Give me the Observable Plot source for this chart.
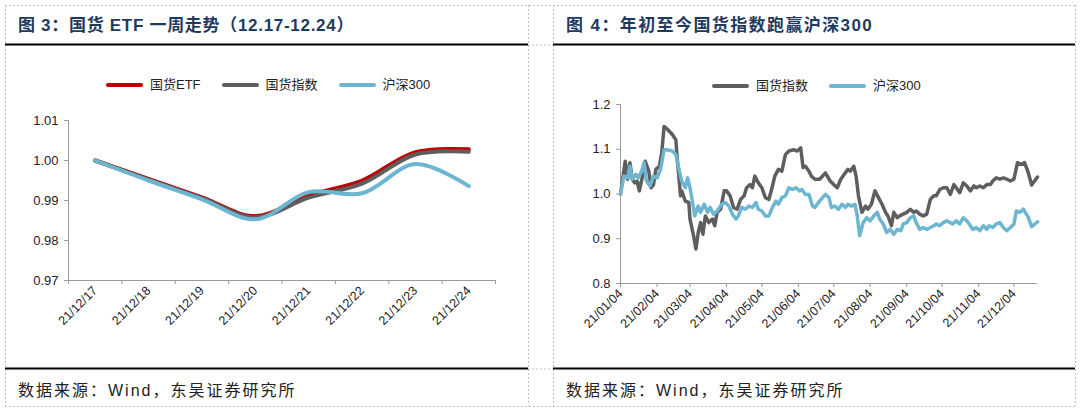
<!DOCTYPE html>
<html>
<head>
<meta charset="utf-8">
<script src="https://cdn.jsdelivr.net/npm/d3@7"></script>
<script src="https://cdn.jsdelivr.net/npm/@observablehq/plot@0.6"></script>
<style>
  body { margin: 0; background: #fff; }
  #root { position: relative; width: 1080px; height: 409px; overflow: hidden; background: #fff;
          font-family: "Liberation Sans", "Noto Sans CJK SC", Arial, sans-serif; }
  .abs { position: absolute; }
  .title { font-family: "Liberation Sans", "Noto Sans CJK SC", sans-serif; font-weight: bold; font-size: 17px;
           color: #1f3a60; letter-spacing: 1px; white-space: nowrap; line-height: 18px; }
  .foot { font-family: "Liberation Sans", "Noto Sans CJK SC", sans-serif; font-size: 16px; color: #222;
          letter-spacing: 2px; white-space: nowrap; line-height: 18px; }
  .legend { display: flex; align-items: center; font-size: 13px; color: #222; white-space: nowrap; line-height: 16px;
            font-family: "Liberation Sans", "Noto Sans CJK SC", sans-serif; }
  .legend .item { display: flex; align-items: center; margin-right: 21px; }
  .legend .sw { width: 37px; height: 4px; border-radius: 2px; margin-right: 7px; }
</style>
</head>
<body>
<div id="root">
  <svg class="abs" style="left:0;top:0" width="1080" height="409">
    <g stroke="#bdbdbd" stroke-width="1" stroke-dasharray="2,2" fill="none">
      <line x1="5" y1="5.5" x2="1075" y2="5.5"/>
      <line x1="5" y1="406.5" x2="1075" y2="406.5"/>
      <line x1="5.5" y1="5" x2="5.5" y2="406"/>
      <line x1="528.5" y1="5" x2="528.5" y2="406"/>
      <line x1="553.5" y1="5" x2="553.5" y2="406"/>
      <line x1="1075.5" y1="5" x2="1075.5" y2="406"/>
      <line x1="528" y1="45" x2="553" y2="45"/>
      <line x1="528" y1="369" x2="553" y2="369"/>
    </g>
    <g stroke="#000" stroke-width="2">
      <line x1="5" y1="44.5" x2="528" y2="44.5"/>
      <line x1="553" y1="44.5" x2="1075" y2="44.5"/>
      <line x1="5" y1="368.5" x2="528" y2="368.5"/>
      <line x1="553" y1="368.5" x2="1075" y2="368.5"/>
    </g>
  </svg>
  <div id="left" class="abs" style="left:0;top:0"></div>
  <div id="right" class="abs" style="left:540px;top:0"></div>

  <div class="abs title" style="left:18px;top:17px;letter-spacing:0.7px">图 3：国货 ETF 一周走势（12.17-12.24）</div>
  <div class="abs title" style="left:566px;top:17px;letter-spacing:1.4px">图 4：年初至今国货指数跑赢沪深300</div>

  <div class="abs foot" style="left:18px;top:382px">数据来源：Wind，东吴证券研究所</div>
  <div class="abs foot" style="left:566px;top:382px">数据来源：Wind，东吴证券研究所</div>

  <div id="legLeft" class="abs legend" style="left:106px;top:77px"></div>
  <div id="legRight" class="abs legend" style="left:712px;top:78px"></div>
</div>

<script>
// ---------- Figure 3 data (one week) ----------
const weekLabels = ["21/12/17","21/12/18","21/12/19","21/12/20","21/12/21","21/12/22","21/12/23","21/12/24"];
const etfValues   = [1.0000, 0.9954, 0.9908, 0.9861, 0.9913, 0.9950, 1.0021, 1.0028];
const indexWeek   = [1.0000, 0.9952, 0.9906, 0.9858, 0.9907, 0.9942, 1.0015, 1.0022];
const hs300Week   = [1.0000, 0.9950, 0.9903, 0.9853, 0.9921, 0.9918, 0.9991, 0.9936];
const weekYTicks  = [0.97, 0.98, 0.99, 1.00, 1.01];

// ---------- Figure 4 data (year to date) ----------
const indexDates = ["2021-01-04","2021-01-08","2021-01-10","2021-01-12","2021-01-14","2021-01-16","2021-01-18","2021-01-20","2021-01-23","2021-01-25","2021-01-28","2021-01-30",
  "2021-02-01","2021-02-03","2021-02-06","2021-02-08","2021-02-10","2021-02-13","2021-02-17","2021-02-20","2021-02-21","2021-02-23","2021-02-24","2021-02-25","2021-02-28",
  "2021-03-03","2021-03-04","2021-03-07","2021-03-09","2021-03-11","2021-03-13","2021-03-15","2021-03-17","2021-03-20","2021-03-23","2021-03-25","2021-03-27","2021-03-30",
  "2021-04-02","2021-04-04","2021-04-07","2021-04-10","2021-04-13","2021-04-16","2021-04-19","2021-04-21","2021-04-24","2021-04-26","2021-04-28",
  "2021-05-01","2021-05-04","2021-05-07","2021-05-10","2021-05-13","2021-05-15","2021-05-18","2021-05-21","2021-05-24","2021-05-27","2021-05-31",
  "2021-06-03","2021-06-06","2021-06-08","2021-06-10","2021-06-13","2021-06-15","2021-06-18","2021-06-22","2021-06-27",
  "2021-07-01","2021-07-04","2021-07-07","2021-07-10","2021-07-13","2021-07-16","2021-07-18","2021-07-21","2021-07-23","2021-07-25","2021-07-28","2021-07-31",
  "2021-08-02","2021-08-05","2021-08-08","2021-08-11","2021-08-14","2021-08-17","2021-08-19","2021-08-22","2021-08-24","2021-08-27","2021-08-29",
  "2021-09-01","2021-09-04","2021-09-07","2021-09-10","2021-09-12","2021-09-15","2021-09-18","2021-09-21","2021-09-24","2021-09-27","2021-09-29",
  "2021-10-02","2021-10-05","2021-10-08","2021-10-11","2021-10-14","2021-10-16","2021-10-19","2021-10-22","2021-10-25","2021-10-28","2021-10-31",
  "2021-11-02","2021-11-05","2021-11-08","2021-11-11","2021-11-14","2021-11-16","2021-11-19","2021-11-22","2021-11-25","2021-11-28",
  "2021-12-01","2021-12-04","2021-12-07","2021-12-10","2021-12-13","2021-12-16","2021-12-19","2021-12-24"];
const indexValues = [1.000,1.073,1.033,1.070,1.033,1.025,1.029,1.007,1.044,1.073,1.051,1.014,
  1.021,1.055,1.062,1.092,1.151,1.144,1.133,1.121,1.084,1.025,0.996,1.007,0.984,
  0.981,0.944,0.907,0.877,0.914,0.936,0.910,0.951,0.936,0.944,0.929,0.959,0.966,
  1.007,1.007,0.996,0.970,0.966,0.988,0.996,1.014,1.021,1.014,1.040,
  1.025,1.014,0.992,0.988,1.018,1.040,1.055,1.051,1.088,1.096,1.099,
  1.096,1.103,1.059,1.062,1.051,1.040,1.033,1.033,1.047,
  1.029,1.021,1.014,1.033,1.044,1.055,1.051,1.062,1.040,0.996,0.959,0.973,
  0.966,0.977,1.007,0.992,0.977,0.959,0.951,0.929,0.959,0.947,0.951,
  0.955,0.959,0.966,0.959,0.962,0.955,0.951,0.955,0.988,0.996,0.996,
  1.010,1.014,1.014,0.999,1.021,1.014,1.003,1.025,1.018,1.007,1.018,
  1.014,1.018,1.014,1.021,1.021,1.029,1.036,1.033,1.036,1.033,
  1.029,1.033,1.070,1.066,1.070,1.049,1.020,1.038];

const hsDates = ["2021-01-04","2021-01-07","2021-01-10","2021-01-12","2021-01-14","2021-01-17","2021-01-19","2021-01-22","2021-01-24","2021-01-26","2021-01-29",
  "2021-02-01","2021-02-04","2021-02-07","2021-02-10","2021-02-12","2021-02-17","2021-02-20","2021-02-23","2021-02-25","2021-02-28",
  "2021-03-02","2021-03-04","2021-03-06","2021-03-08","2021-03-11","2021-03-13","2021-03-16","2021-03-19","2021-03-21","2021-03-24","2021-03-27","2021-03-31",
  "2021-04-03","2021-04-06","2021-04-09","2021-04-12","2021-04-14","2021-04-17","2021-04-20","2021-04-23","2021-04-26","2021-04-29",
  "2021-05-01","2021-05-04","2021-05-07","2021-05-10","2021-05-13","2021-05-16","2021-05-18","2021-05-21","2021-05-24","2021-05-27","2021-05-30",
  "2021-06-02","2021-06-05","2021-06-07","2021-06-10","2021-06-13","2021-06-16","2021-06-18","2021-06-22","2021-06-27","2021-06-30",
  "2021-07-02","2021-07-05","2021-07-08","2021-07-11","2021-07-14","2021-07-16","2021-07-19","2021-07-22","2021-07-24","2021-07-26","2021-07-29",
  "2021-08-01","2021-08-04","2021-08-07","2021-08-10","2021-08-12","2021-08-15","2021-08-18","2021-08-21","2021-08-24","2021-08-27","2021-08-30",
  "2021-09-01","2021-09-04","2021-09-07","2021-09-10","2021-09-12","2021-09-15","2021-09-18","2021-09-21","2021-09-24","2021-09-27","2021-09-29",
  "2021-10-02","2021-10-05","2021-10-08","2021-10-11","2021-10-13","2021-10-16","2021-10-19","2021-10-22","2021-10-25","2021-10-28","2021-10-30",
  "2021-11-02","2021-11-05","2021-11-08","2021-11-11","2021-11-13","2021-11-16","2021-11-19","2021-11-22","2021-11-25","2021-11-28",
  "2021-12-01","2021-12-04","2021-12-06","2021-12-09","2021-12-12","2021-12-16","2021-12-19","2021-12-24"];
const hsValues = [1.000,1.040,1.036,1.062,1.033,1.044,1.036,1.051,1.070,1.029,1.018,
  1.040,1.036,1.055,1.099,1.099,1.096,1.088,1.051,1.029,1.014,
  1.036,1.014,0.984,0.951,0.973,0.959,0.977,0.959,0.970,0.955,0.962,0.977,
  0.981,0.973,0.955,0.944,0.951,0.970,0.966,0.973,0.970,0.981,
  0.966,0.962,0.951,0.951,0.970,0.984,0.977,0.992,0.996,1.014,1.010,
  1.014,1.007,1.010,0.999,0.999,0.973,0.970,0.984,0.999,0.992,
  0.970,0.973,0.966,0.977,0.970,0.977,0.973,0.977,0.951,0.907,0.936,
  0.947,0.940,0.951,0.959,0.944,0.933,0.914,0.921,0.910,0.921,0.918,
  0.933,0.936,0.947,0.951,0.936,0.921,0.925,0.921,0.925,0.929,0.933,
  0.929,0.936,0.940,0.936,0.933,0.940,0.933,0.947,0.940,0.929,0.921,
  0.925,0.918,0.929,0.921,0.929,0.925,0.933,0.936,0.925,0.918,
  0.925,0.933,0.962,0.959,0.966,0.949,0.927,0.938];

const ytdTickDates = ["2021-01-04","2021-02-04","2021-03-04","2021-04-04","2021-05-04","2021-06-04",
  "2021-07-04","2021-08-04","2021-09-04","2021-10-04","2021-11-04","2021-12-04"];
const ytdYTicks = [0.8, 0.9, 1.0, 1.1, 1.2];

// ---------- colors / names ----------
const RED = "#c00000", GRAY = "#5e5e5e", BLUE = "#6cb6d1";
const nameETF = "国货ETF", nameIndex = "国货指数", nameHS = "沪深300";

// ---------- Figure 3 ----------
const weekRows = (vals, series) => vals.map((v, i) => ({i, value: v, series}));
const etfRows = weekRows(etfValues, nameETF);
const idxRows = weekRows(indexWeek, nameIndex);
const hsRows = weekRows(hs300Week, nameHS);
const idxs = weekLabels.map((_, i) => i);
const bounds = [-0.5, ...idxs.map(i => i + 0.5)];

const axisFont = "Liberation Sans, Arial, sans-serif";
const left = Plot.plot({
  width: 540, height: 409,
  marginLeft: 68, marginRight: 45, marginTop: 120, marginBottom: 129,
  style: {background: "transparent", fontFamily: axisFont, overflow: "visible"},
  x: {type: "linear", domain: [-0.5, weekLabels.length - 0.5], label: null},
  y: {domain: [0.97, 1.01], label: null},
  marks: [
    Plot.ruleX([-0.5], {stroke: "#9a9a9a"}),
    Plot.ruleY([0.97], {stroke: "#9a9a9a"}),
    Plot.axisY({ticks: weekYTicks, tickFormat: d3.format(".2f"), tickSize: 4, tickPadding: 6, fontSize: 13, stroke: "#9a9a9a", fill: "#222", label: null}),
    Plot.axisX({ticks: bounds, tickFormat: () => "", tickSize: 4, stroke: "#9a9a9a", label: null}),
    Plot.axisX({ticks: idxs, tickFormat: i => weekLabels[i], tickSize: 0, tickPadding: 8, tickRotate: -45, fontSize: 12.5, fill: "#222", label: null}),
    Plot.line(etfRows, {x: "i", y: "value", stroke: RED, strokeWidth: 4, curve: "catmull-rom"}),
    Plot.line(idxRows, {x: "i", y: "value", stroke: GRAY, strokeWidth: 4, curve: "catmull-rom"}),
    Plot.line(hsRows, {x: "i", y: "value", stroke: BLUE, strokeWidth: 4, curve: "catmull-rom"})
  ]
});
document.getElementById("left").appendChild(left);

// ---------- Figure 4 ----------
const parse = d3.utcParse("%Y-%m-%d");
const idxYTD = indexDates.map((d, k) => ({date: parse(d), value: indexValues[k]}));
const hsYTD = hsDates.map((d, k) => ({date: parse(d), value: hsValues[k]}));
const tickDates = ytdTickDates.map(parse);
const x0 = parse(indexDates[0]), x1 = parse(indexDates[indexDates.length - 1]);

const right = Plot.plot({
  width: 540, height: 409,
  marginLeft: 80, marginRight: 43, marginTop: 104, marginBottom: 126,
  style: {background: "transparent", fontFamily: axisFont, overflow: "visible"},
  x: {type: "utc", domain: [x0, x1], label: null},
  y: {domain: [0.8, 1.2], label: null},
  marks: [
    Plot.ruleX([x0], {stroke: "#9a9a9a"}),
    Plot.ruleY([0.8], {stroke: "#9a9a9a"}),
    Plot.axisY({ticks: ytdYTicks, tickFormat: d3.format(".1f"), tickSize: 4, tickPadding: 6, fontSize: 13, stroke: "#9a9a9a", fill: "#222", label: null}),
    Plot.axisX({ticks: tickDates, tickFormat: d3.utcFormat("%y/%m/%d"), tickSize: 4, tickPadding: 4, tickRotate: -45, fontSize: 12.5, stroke: "#9a9a9a", fill: "#222", label: null}),
    Plot.line(idxYTD, {x: "date", y: "value", stroke: GRAY, strokeWidth: 3.5}),
    Plot.line(hsYTD, {x: "date", y: "value", stroke: BLUE, strokeWidth: 3.5})
  ]
});
document.getElementById("right").appendChild(right);

// ---------- legends ----------
function legend(el, items) {
  for (const [name, color] of items) {
    const it = document.createElement("div"); it.className = "item";
    const sw = document.createElement("div"); sw.className = "sw"; sw.style.background = color;
    const tx = document.createElement("span"); tx.textContent = name;
    it.appendChild(sw); it.appendChild(tx); el.appendChild(it);
  }
}
legend(document.getElementById("legLeft"), [[nameETF, RED], [nameIndex, GRAY], [nameHS, BLUE]]);
legend(document.getElementById("legRight"), [[nameIndex, GRAY], [nameHS, BLUE]]);
</script>
</body>
</html>
